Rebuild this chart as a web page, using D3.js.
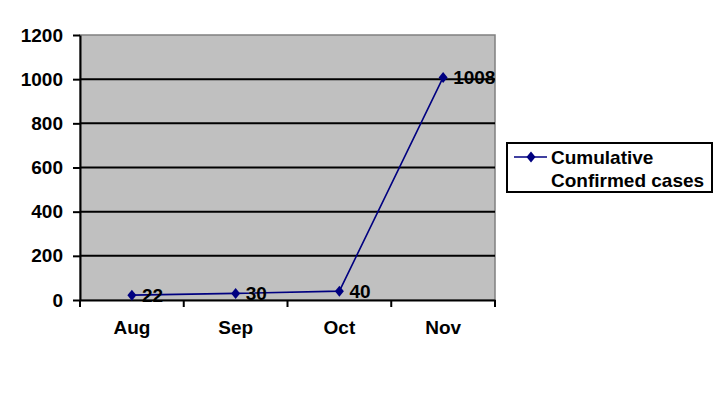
<!DOCTYPE html>
<html><head><meta charset="utf-8">
<script src="https://cdn.jsdelivr.net/npm/d3@7"></script>
<style>body{margin:0;background:#fff}svg{display:block}text{font-family:"Liberation Sans",Arial,sans-serif;font-weight:bold;font-size:19px;fill:#000}</style>
</head><body><svg id="c" width="724" height="406"></svg>
<script>
const months = ["Aug","Sep","Oct","Nov"];
const cumulativeCases = [22,30,40,1008];
const yTicks = [0,200,400,600,800,1000,1200];
const seriesName = ["Cumulative","Confirmed cases"];

const svg = d3.select("#c");
const L=80,R=495,T=35,B=300;
const x = d3.scaleBand().domain(months).range([L,R]);
const y = d3.scaleLinear().domain([0,1200]).range([B,T]);
const navy="#000080";

svg.append("rect").attr("x",L).attr("y",T).attr("width",R-L).attr("height",B-T).attr("fill","#c0c0c0").attr("stroke","#808080").attr("stroke-width",1.5);
svg.append("g").selectAll("line").data(yTicks.filter(d=>d>0&&d<1200)).join("line")
  .attr("x1",L).attr("x2",R).attr("y1",d=>y(d)).attr("y2",d=>y(d)).attr("stroke","#000").attr("stroke-width",2);

const ya = svg.append("g").attr("transform",`translate(${L},0)`).call(d3.axisLeft(y).tickValues(yTicks).tickFormat(d3.format("d")).tickSize(7).tickPadding(10).tickSizeOuter(0));
const xa = svg.append("g").attr("transform",`translate(0,${B})`).call(d3.axisBottom(x).tickSize(0).tickPadding(21));
[ya,xa].forEach(a=>{a.attr("font-size",null).attr("font-family",null);a.selectAll("text").attr("fill","#000");a.select(".domain").attr("stroke","#000").attr("stroke-width",2);a.selectAll("line").attr("stroke","#000").attr("stroke-width",2);});
// category boundary ticks
const bounds = months.map(m=>x(m)).concat([R]);
svg.append("g").selectAll("line").data(bounds).join("line")
  .attr("x1",d=>d).attr("x2",d=>d).attr("y1",B).attr("y2",B+7).attr("stroke","#000").attr("stroke-width",2);

const cx = d=>x(d)+x.bandwidth()/2;
const pts = months.map((m,i)=>({m,v:cumulativeCases[i]}));
svg.append("path").datum(pts).attr("fill","none").attr("stroke",navy).attr("stroke-width",1.6)
  .attr("d",d3.line().x(d=>cx(d.m)).y(d=>y(d.v)));
const diamond = "M0,-5.5L4.5,0L0,5.5L-4.5,0Z";
svg.append("g").selectAll("path").data(pts).join("path").attr("d",diamond)
  .attr("transform",d=>`translate(${cx(d.m)},${y(d.v)})`).attr("fill",navy);
svg.append("g").selectAll("text").data(pts).join("text")
  .attr("x",d=>cx(d.m)+10).attr("y",d=>y(d.v)+7).text(d=>d.v);

// legend
const lg = svg.append("g");
lg.append("rect").attr("x",507).attr("y",143).attr("width",205).attr("height",49).attr("fill","#fff").attr("stroke","#000").attr("stroke-width",2);
lg.append("line").attr("x1",514).attr("x2",547).attr("y1",157).attr("y2",157).attr("stroke",navy).attr("stroke-width",1.6);
lg.append("path").attr("d",diamond).attr("transform","translate(531,157)").attr("fill",navy);
lg.selectAll("text").data(seriesName).join("text").attr("x",551).attr("y",(d,i)=>164+i*23).text(d=>d);
</script></body></html>
